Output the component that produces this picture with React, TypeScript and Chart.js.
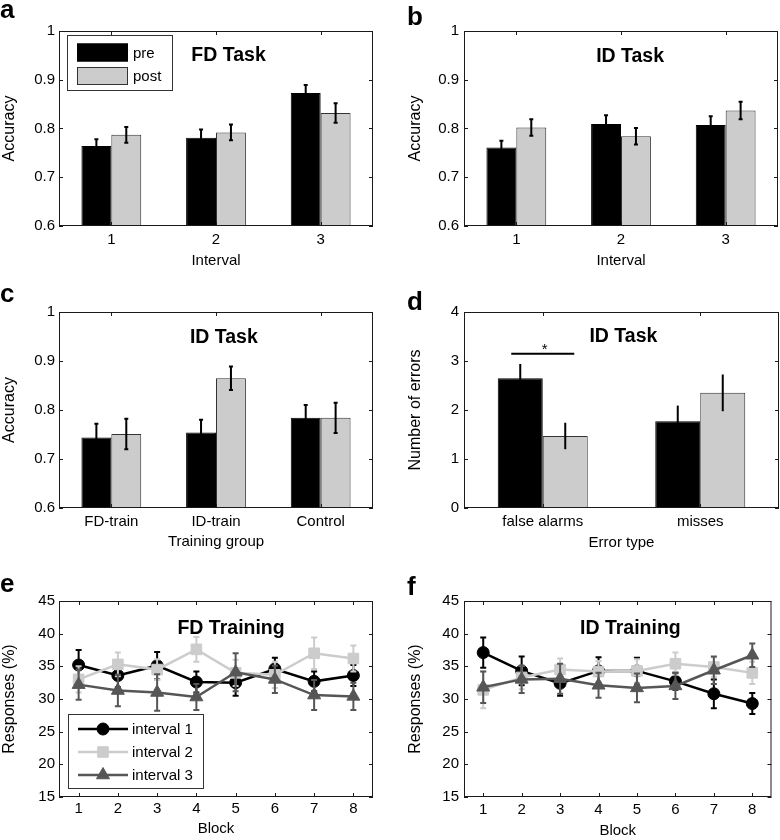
import React, { useEffect, useRef } from 'react';
import { Chart, registerables } from 'chart.js';

Chart.register(...registerables);

const FONT = '"Liberation Sans", Arial, Helvetica, sans-serif';

// ---------- data ----------
const intervalLabels = ['1', '2', '3'];
const groupLabels = ['FD-train', 'ID-train', 'Control'];
const errorTypeLabels = ['false alarms', 'misses'];
const blockLabels = ['1', '2', '3', '4', '5', '6', '7', '8'];

const accTicks = [0.6, 0.7, 0.8, 0.9, 1];
const accTickLabels = ['0.6', '0.7', '0.8', '0.9', '1'];
const errTicks = [0, 1, 2, 3, 4];
const errTickLabels = ['0', '1', '2', '3', '4'];
const respTicks = [15, 20, 25, 30, 35, 40, 45];
const respTickLabels = ['15', '20', '25', '30', '35', '40', '45'];

// a: FD Task
const fdPre = [0.764, 0.781, 0.873];
const fdPreErr = [0.014, 0.017, 0.016];
const fdPost = [0.787, 0.792, 0.832];
const fdPostErr = [0.016, 0.016, 0.02];
// b: ID Task by interval
const idPre = [0.761, 0.809, 0.807];
const idPreErr = [0.014, 0.018, 0.018];
const idPost = [0.802, 0.784, 0.837];
const idPostErr = [0.017, 0.017, 0.018];
// c: ID Task by training group
const groupPre = [0.744, 0.754, 0.784];
const groupPreErr = [0.028, 0.026, 0.026];
const groupPost = [0.751, 0.865, 0.784];
const groupPostErr = [0.031, 0.024, 0.031];
// d: number of errors
const errorsPre = [2.65, 1.77];
const errorsPreErr = [0.29, 0.32];
const errorsPost = [1.47, 2.35];
const errorsPostErr = [0.27, 0.375];
const sigFrom = -0.2;
const sigTo = 0.2;
const sigLevel = 3.15;
// e: FD training
const fdInt1 = [35.2, 33.6, 35.1, 32.6, 32.5, 34.6, 32.7, 33.6];
const fdInt1Err = [2.3, 1.8, 2.1, 1.6, 2.0, 1.7, 1.5, 1.6];
const fdInt2 = [33.0, 35.3, 34.5, 37.6, 34.0, 33.7, 37.0, 36.2];
const fdInt2Err = [2.0, 1.8, 1.6, 1.9, 2.0, 2.0, 2.4, 2.0];
const fdInt3 = [32.2, 31.3, 31.0, 30.3, 34.1, 33.0, 30.6, 30.4];
const fdInt3Err = [2.3, 2.4, 2.8, 2.0, 2.9, 2.1, 2.3, 2.1];
// f: ID training
const idInt1 = [37.1, 34.3, 32.4, 34.3, 34.3, 32.7, 30.8, 29.3];
const idInt1Err = [2.3, 2.2, 1.9, 2.1, 2.0, 1.3, 2.2, 1.6];
const idInt2 = [31.4, 33.3, 34.5, 34.2, 34.3, 35.4, 34.9, 34.0];
const idInt2Err = [2.8, 1.8, 1.7, 1.6, 1.8, 1.7, 1.5, 1.7];
const idInt3 = [31.8, 33.0, 33.1, 32.1, 31.7, 32.0, 34.4, 36.7];
const idInt3Err = [2.4, 2.1, 2.3, 1.9, 2.2, 2.0, 2.1, 1.8];

// ---------- styles ----------
const BLACK = '#000000';
const LIGHT = '#cccccc';
const DARK = '#565656';

type Series = {
  label: string;
  data: number[];
  err: number[];
  color: string;
  edge?: string;
  errColor: string;
  marker?: 'circle' | 'rect' | 'triangle';
  radius?: number;
};

type Spec = {
  kind: 'bar' | 'line';
  letter: string;
  letterX: number;
  letterBase: number;
  title: string;
  titleFx: number;
  titleFy: number;
  labels: string[];
  series: Series[];
  yMin: number;
  yMax: number;
  yTicks: number[];
  yTickLabels: string[];
  yTitle: string;
  xTitle: string;
  yTitlePad: number;
  xTitlePad: number;
  xTickPad: number;
  yTickPad: number;
  area: { left: number; right: number; top: number; bottom: number };
  cap: number;
  errWidth: number;
  legend?: any;
  sig?: boolean;
};

const W = 390;
const H = 280;

const barPair = (pre: number[], preErr: number[], post: number[], postErr: number[]): Series[] => [
  { label: 'pre', data: pre, err: preErr, color: BLACK, edge: BLACK, errColor: BLACK },
  { label: 'post', data: post, err: postErr, color: LIGHT, edge: '#333333', errColor: BLACK },
];

const lineTriple = (a: number[], ae: number[], b: number[], be: number[], c: number[], ce: number[]): Series[] => [
  { label: 'interval 1', data: a, err: ae, color: BLACK, errColor: BLACK, marker: 'circle', radius: 6 },
  { label: 'interval 2', data: b, err: be, color: LIGHT, errColor: LIGHT, marker: 'rect', radius: 7.5 },
  { label: 'interval 3', data: c, err: ce, color: DARK, errColor: DARK, marker: 'triangle', radius: 7.5 },
];

const barLegend = { x: 8, y: 4, w: 105, h: 55, rows: [17.5, 41], sx: 10, sw: 51, sh: 18, tx: 66 };
const lineLegend = { x: 9, y: 113, w: 135, h: 74, rows: [15, 38, 61], lx0: 10, lx1: 60, tx: 64 };

const specs: { spec: Spec; left: number; top: number }[] = [
  {
    left: 0, top: 0,
    spec: {
      kind: 'bar', letter: 'a', letterX: 0, letterBase: 18, title: 'FD Task', titleFx: 0.54, titleFy: 0.128,
      labels: intervalLabels, series: barPair(fdPre, fdPreErr, fdPost, fdPostErr),
      yMin: 0.6, yMax: 1, yTicks: accTicks, yTickLabels: accTickLabels, yTitle: 'Accuracy', xTitle: 'Interval',
      yTitlePad: 0, xTitlePad: 10, xTickPad: 5, yTickPad: 4,
      area: { left: 59, right: 373, top: 31, bottom: 226 }, cap: 2, errWidth: 2, legend: barLegend,
    },
  },
  {
    left: 390, top: 0,
    spec: {
      kind: 'bar', letter: 'b', letterX: 17, letterBase: 25, title: 'ID Task', titleFx: 0.529, titleFy: 0.13,
      labels: intervalLabels, series: barPair(idPre, idPreErr, idPost, idPostErr),
      yMin: 0.6, yMax: 1, yTicks: accTicks, yTickLabels: accTickLabels, yTitle: 'Accuracy', xTitle: 'Interval',
      yTitlePad: 16, xTitlePad: 10, xTickPad: 5, yTickPad: 5,
      area: { left: 74, right: 388, top: 31, bottom: 226 }, cap: 2, errWidth: 2,
    },
  },
  {
    left: 0, top: 280,
    spec: {
      kind: 'bar', letter: 'c', letterX: 0, letterBase: 22, title: 'ID Task', titleFx: 0.525, titleFy: 0.133,
      labels: groupLabels, series: barPair(groupPre, groupPreErr, groupPost, groupPostErr),
      yMin: 0.6, yMax: 1, yTicks: accTicks, yTickLabels: accTickLabels, yTitle: 'Accuracy', xTitle: 'Training group',
      yTitlePad: 0, xTitlePad: 9, xTickPad: 5, yTickPad: 4,
      area: { left: 59, right: 373, top: 32, bottom: 228 }, cap: 2, errWidth: 2,
    },
  },
  {
    left: 390, top: 280,
    spec: {
      kind: 'bar', letter: 'd', letterX: 17, letterBase: 30, title: 'ID Task', titleFx: 0.506, titleFy: 0.126,
      labels: errorTypeLabels, series: barPair(errorsPre, errorsPreErr, errorsPost, errorsPostErr),
      yMin: 0, yMax: 4, yTicks: errTicks, yTickLabels: errTickLabels, yTitle: 'Number of errors', xTitle: 'Error type',
      yTitlePad: 16, xTitlePad: 8, xTickPad: 5, yTickPad: 5,
      area: { left: 74, right: 389, top: 32, bottom: 228 }, cap: 0, errWidth: 2, sig: true,
    },
  },
  {
    left: 0, top: 560,
    spec: {
      kind: 'line', letter: 'e', letterX: 0, letterBase: 32, title: 'FD Training', titleFx: 0.548, titleFy: 0.143,
      labels: blockLabels, series: lineTriple(fdInt1, fdInt1Err, fdInt2, fdInt2Err, fdInt3, fdInt3Err),
      yMin: 15, yMax: 45, yTicks: respTicks, yTickLabels: respTickLabels, yTitle: 'Responses (%)', xTitle: 'Block',
      yTitlePad: 0, xTitlePad: 2, xTickPad: 3, yTickPad: 4,
      area: { left: 59, right: 373, top: 41, bottom: 237 }, cap: 3, errWidth: 2, legend: lineLegend,
    },
  },
  {
    left: 390, top: 560,
    spec: {
      kind: 'line', letter: 'f', letterX: 17, letterBase: 35, title: 'ID Training', titleFx: 0.541, titleFy: 0.143,
      labels: blockLabels, series: lineTriple(idInt1, idInt1Err, idInt2, idInt2Err, idInt3, idInt3Err),
      yMin: 15, yMax: 45, yTicks: respTicks, yTickLabels: respTickLabels, yTitle: 'Responses (%)', xTitle: 'Block',
      yTitlePad: 16, xTitlePad: 0, xTickPad: 4, yTickPad: 5,
      area: { left: 74, right: 389, top: 41, bottom: 237 }, cap: 3, errWidth: 2,
    },
  },
];

function drawMarker(ctx: CanvasRenderingContext2D, style: string, x: number, y: number, r: number) {
  ctx.beginPath();
  if (style === 'circle') {
    ctx.arc(x, y, r, 0, Math.PI * 2);
  } else if (style === 'rect') {
    const s = Math.SQRT1_2 * r;
    ctx.rect(x - s, y - s, 2 * s, 2 * s);
  } else {
    ctx.moveTo(x, y - r);
    ctx.lineTo(x + Math.sin((2 * Math.PI) / 3) * r, y + 0.5 * r);
    ctx.lineTo(x - Math.sin((2 * Math.PI) / 3) * r, y + 0.5 * r);
    ctx.closePath();
  }
  ctx.fill();
  ctx.stroke();
}

function buildConfig(spec: Spec): any {
  const isBar = spec.kind === 'bar';
  const n = spec.series.length;
  const datasets = spec.series.map((s, i) =>
    isBar
      ? {
          type: 'bar',
          label: s.label,
          data: s.data,
          backgroundColor: s.color,
          borderColor: s.edge,
          borderWidth: 1,
          borderSkipped: 'start',
          categoryPercentage: 2 / 3.5,
          barPercentage: 1,
        }
      : {
          type: 'line',
          label: s.label,
          data: s.data,
          borderColor: s.color,
          backgroundColor: s.color,
          borderWidth: 2.5,
          pointStyle: s.marker,
          pointRadius: s.radius,
          pointBackgroundColor: s.color,
          pointBorderColor: s.color,
          pointBorderWidth: 1,
          tension: 0,
          fill: false,
          order: n - 1 - i,
        }
  );

  const drawErr = (chart: any, di: number) => {
    const s = spec.series[di];
    const meta = chart.getDatasetMeta(di);
    const ys = chart.scales.y;
    const ctx: CanvasRenderingContext2D = chart.ctx;
    ctx.save();
    ctx.strokeStyle = s.errColor;
    ctx.lineWidth = spec.errWidth;
    ctx.lineCap = 'butt';
    meta.data.forEach((el: any, i: number) => {
      const x = el.x;
      const v = s.data[i];
      const e = s.err[i];
      const y1 = ys.getPixelForValue(v - e);
      const y2 = ys.getPixelForValue(v + e);
      ctx.beginPath();
      ctx.moveTo(x, y1);
      ctx.lineTo(x, y2);
      if (spec.cap > 0) {
        ctx.moveTo(x - spec.cap, y1);
        ctx.lineTo(x + spec.cap, y1);
        ctx.moveTo(x - spec.cap, y2);
        ctx.lineTo(x + spec.cap, y2);
      }
      ctx.stroke();
    });
    ctx.restore();
  };

  const panelPlugin = {
    id: 'panelDecor',
    beforeDatasetDraw(chart: any, args: any) {
      if (!isBar) drawErr(chart, args.index);
    },
    afterDatasetDraw(chart: any, args: any) {
      if (isBar) drawErr(chart, args.index);
    },
    afterDatasetsDraw(chart: any) {
      const ctx: CanvasRenderingContext2D = chart.ctx;
      const { left, right, top, bottom } = chart.chartArea;
      const xs = chart.scales.x;
      const ys = chart.scales.y;
      ctx.save();
      // significance bar
      if (spec.sig) {
        const yy = ys.getPixelForValue(sigLevel);
        ctx.strokeStyle = '#000';
        ctx.lineWidth = 2;
        ctx.beginPath();
        ctx.moveTo(xs.getPixelForValue(sigFrom), yy);
        ctx.lineTo(xs.getPixelForValue(sigTo), yy);
        ctx.stroke();
        ctx.fillStyle = '#000';
        ctx.font = `15px ${FONT}`;
        ctx.textAlign = 'center';
        ctx.textBaseline = 'alphabetic';
        ctx.fillText('*', xs.getPixelForValue((sigFrom + sigTo) / 2) + 2, yy);
      }
      // axes box and inward ticks
      ctx.strokeStyle = '#1a1a1a';
      ctx.lineWidth = 1;
      ctx.strokeRect(left + 0.5, top + 0.5, right - left - 1, bottom - top - 1);
      ctx.beginPath();
      spec.yTicks.forEach((v) => {
        const y = Math.round(ys.getPixelForValue(v)) + 0.5;
        ctx.moveTo(left, y);
        ctx.lineTo(left + 4, y);
        ctx.moveTo(right - 4, y);
        ctx.lineTo(right, y);
      });
      spec.labels.forEach((_, i) => {
        const x = Math.round(xs.getPixelForValue(i)) + 0.5;
        ctx.moveTo(x, bottom);
        ctx.lineTo(x, bottom - 4);
        ctx.moveTo(x, top);
        ctx.lineTo(x, top + 4);
      });
      ctx.stroke();
      ctx.restore();
    },
    afterDraw(chart: any) {
      const ctx: CanvasRenderingContext2D = chart.ctx;
      const { left, right, top, bottom } = chart.chartArea;
      ctx.save();
      // panel letter
      ctx.fillStyle = '#000';
      ctx.font = `bold 26px ${FONT}`;
      ctx.textAlign = 'left';
      ctx.textBaseline = 'alphabetic';
      ctx.fillText(spec.letter, spec.letterX, spec.letterBase);
      // in-axes title
      ctx.font = `bold 19.5px ${FONT}`;
      ctx.textAlign = 'center';
      ctx.textBaseline = 'middle';
      ctx.fillText(spec.title, left + spec.titleFx * (right - left), top + spec.titleFy * (bottom - top));
      // legend
      const lg = spec.legend;
      if (lg) {
        const bx = left + lg.x;
        const by = top + lg.y;
        ctx.fillStyle = '#fff';
        ctx.fillRect(bx, by, lg.w, lg.h);
        ctx.strokeStyle = '#333';
        ctx.lineWidth = 1;
        ctx.strokeRect(bx + 0.5, by + 0.5, lg.w, lg.h);
        ctx.font = `15px ${FONT}`;
        ctx.textAlign = 'left';
        ctx.textBaseline = 'middle';
        spec.series.forEach((s, i) => {
          const cy = by + lg.rows[i];
          if (isBar) {
            ctx.fillStyle = s.color;
            ctx.fillRect(bx + lg.sx, cy - lg.sh / 2, lg.sw, lg.sh);
            ctx.strokeStyle = s.edge || '#000';
            ctx.strokeRect(bx + lg.sx + 0.5, cy - lg.sh / 2 + 0.5, lg.sw - 1, lg.sh - 1);
          } else {
            ctx.strokeStyle = s.color;
            ctx.lineWidth = 2.5;
            ctx.beginPath();
            ctx.moveTo(bx + lg.lx0, cy);
            ctx.lineTo(bx + lg.lx1, cy);
            ctx.stroke();
            ctx.fillStyle = s.color;
            ctx.lineWidth = 1;
            drawMarker(ctx, s.marker || 'circle', bx + (lg.lx0 + lg.lx1) / 2, cy, s.radius || 6);
          }
          ctx.fillStyle = '#000';
          ctx.fillText(s.label, bx + lg.tx, cy + 1);
        });
      }
      ctx.restore();
    },
  };

  return {
    type: isBar ? 'bar' : 'line',
    data: { labels: spec.labels, datasets },
    options: {
      responsive: false,
      maintainAspectRatio: false,
      animation: false,
      devicePixelRatio: 1,
      layout: { padding: { left: 0, right: W - spec.area.right, top: spec.area.top, bottom: 0 } },
      plugins: { legend: { display: false }, tooltip: { enabled: false }, title: { display: false } },
      events: [],
      scales: {
        x: {
          type: 'category',
          offset: true,
          grid: { display: false, drawTicks: false },
          border: { display: false },
          ticks: {
            color: '#000',
            font: { family: FONT, size: 15 },
            padding: spec.xTickPad,
            maxRotation: 0,
            autoSkip: false,
          },
          title: {
            display: true,
            text: spec.xTitle,
            color: '#000',
            font: { family: FONT, size: 15 },
            padding: { top: 0, bottom: spec.xTitlePad },
          },
          afterFit: (s: any) => {
            s.height = H - spec.area.bottom;
          },
        },
        y: {
          type: 'linear',
          min: spec.yMin,
          max: spec.yMax,
          grid: { display: false, drawTicks: false },
          border: { display: false },
          afterBuildTicks: (s: any) => {
            s.ticks = spec.yTicks.map((v) => ({ value: v }));
          },
          ticks: {
            color: '#000',
            font: { family: FONT, size: 15 },
            padding: spec.yTickPad,
            callback: (v: number) => {
              const k = spec.yTicks.findIndex((t) => Math.abs(t - v) < 1e-9);
              return k >= 0 ? spec.yTickLabels[k] : '';
            },
          },
          title: {
            display: true,
            text: spec.yTitle,
            color: '#000',
            font: { family: FONT, size: 16 },
            padding: { top: spec.yTitlePad, bottom: 0 },
          },
          afterFit: (s: any) => {
            s.width = spec.area.left;
          },
        },
      },
    },
    plugins: [panelPlugin],
  };
}

function Panel({ spec, left, top }: { spec: Spec; left: number; top: number }) {
  const ref = useRef<HTMLCanvasElement>(null);
  useEffect(() => {
    const canvas = ref.current;
    if (!canvas) return;
    const chart = new Chart(canvas, buildConfig(spec));
    return () => chart.destroy();
  }, [spec]);
  return (
    <canvas
      ref={ref}
      width={W}
      height={H}
      style={{ position: 'absolute', left, top, width: W, height: H, display: 'block' }}
    />
  );
}

export default function App() {
  return (
    <div style={{ position: 'absolute', left: 0, top: 0, width: 780, height: 840, background: '#fff', overflow: 'hidden' }}>
      {specs.map((p, i) => (
        <Panel key={i} spec={p.spec} left={p.left} top={p.top} />
      ))}
    </div>
  );
}
